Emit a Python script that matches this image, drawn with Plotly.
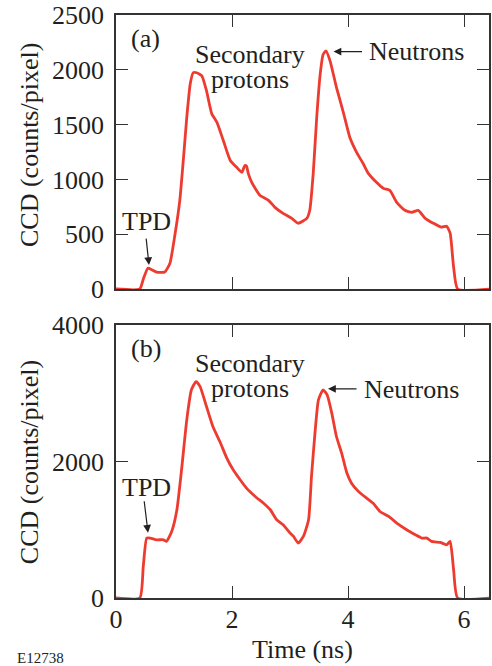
import plotly.graph_objects as go
from plotly.subplots import make_subplots

# Panel (a)
time_a = [0, 0.41, 0.47, 0.55, 0.62, 0.70, 0.84, 0.93, 1.02, 1.10, 1.16, 1.22, 1.28, 1.33, 1.39, 1.48, 1.56, 1.65, 1.74, 1.85,
          1.97, 2.08, 2.17, 2.22, 2.25, 2.28, 2.34, 2.48, 2.63, 2.74, 2.88, 3.03, 3.14, 3.29, 3.34, 3.40, 3.46, 3.52, 3.57, 3.62,
          3.69, 3.80, 3.92, 4.03, 4.15, 4.26, 4.35, 4.49, 4.61, 4.72, 4.84, 4.98, 5.10, 5.21, 5.33, 5.47, 5.61, 5.70, 5.76, 5.82,
          5.89, 6.45]
ccd_a = [0, 0, 90, 190, 175, 155, 155, 236, 509, 809, 1173, 1565, 1872, 1973, 1973, 1945, 1809, 1600, 1520, 1355,
         1173, 1110, 1064, 1127, 1120, 1055, 973, 855, 809, 745, 690, 645, 600, 645, 718, 1055, 1565, 1960, 2140, 2173,
         2082, 1840, 1610, 1385, 1245, 1145, 1055, 973, 918, 900, 790, 718, 700, 718, 645, 600, 564, 573, 509, 200,
         0, 0]

# Panel (b)
time_b = [0, 0.41, 0.47, 0.53, 0.59, 0.70, 0.82, 0.87, 0.96, 1.05, 1.13, 1.22, 1.30, 1.38, 1.45, 1.56, 1.67, 1.79, 1.91, 2.02,
          2.14, 2.25, 2.40, 2.54, 2.66, 2.77, 2.88, 3.00, 3.06, 3.14, 3.23, 3.32, 3.37, 3.43, 3.49, 3.57, 3.64, 3.72, 3.80, 3.89,
          3.98, 4.06, 4.18, 4.32, 4.43, 4.55, 4.70, 4.84, 5.01, 5.16, 5.27, 5.36, 5.44, 5.59, 5.70, 5.76, 5.82, 5.89, 6.45]
ccd_b = [0, 0, 463, 878, 878, 853, 853, 829, 975, 1293, 1878, 2610, 3050, 3171, 3098, 2805, 2512, 2293, 2050, 1878,
         1732, 1610, 1488, 1391, 1293, 1147, 1073, 952, 902, 805, 902, 1147, 1781, 2416, 2903, 3050, 2976, 2708, 2366, 2122,
         1830, 1683, 1561, 1464, 1391, 1268, 1195, 1098, 1000, 927, 878, 878, 829, 814, 780, 829, 414, 0, 0]

x_ticks = [0, 2, 4, 6]
y_ticks_a = [0, 500, 1000, 1500, 2000, 2500]
y_ticks_b = [0, 2000, 4000]

FONT = "Liberation Serif, Times New Roman, serif"
TXT = "#231f20"
RED = "#ee3b30"
FS = 26

fig = make_subplots(rows=2, cols=1)
fig.add_trace(go.Scatter(x=time_a, y=ccd_a, mode="lines", line=dict(color=RED, width=2.8, shape="spline", smoothing=0.5),
                         showlegend=False), row=1, col=1)
fig.add_trace(go.Scatter(x=time_b, y=ccd_b, mode="lines", line=dict(color=RED, width=2.8, shape="spline", smoothing=0.5),
                         showlegend=False), row=2, col=1)

axcommon = dict(showline=True, linecolor="#333333", linewidth=1.5, mirror="ticks", ticks="inside", ticklen=12,
                tickwidth=1.2, tickcolor="#333333", showgrid=False, zeroline=False, automargin=False,
                tickfont=dict(family=FONT, size=FS, color=TXT))
fig.update_layout(
    xaxis=dict(axcommon, range=[0, 6.43], tickvals=x_ticks, showticklabels=False, domain=[0, 1]),
    xaxis2=dict(axcommon, range=[0, 6.43], tickvals=x_ticks, domain=[0, 1], ticklabelstandoff=-3),
    yaxis=dict(axcommon, range=[0, 2500], tickvals=y_ticks_a, domain=[0.530, 1], ticklabelstandoff=5),
    yaxis2=dict(axcommon, range=[0, 4000], tickvals=y_ticks_b, domain=[0, 0.4683], ticklabelstandoff=5),
    width=492, height=666, margin=dict(l=116, r=3, t=15, b=68),
    paper_bgcolor="white", plot_bgcolor="white",
    font=dict(family=FONT, size=FS, color=TXT),
)

def txt(text, x, y, xref, yref, xanchor="center", size=FS):
    fig.add_annotation(text=text, x=x, y=y, xref=xref, yref=yref, xanchor=xanchor, yanchor="middle",
                       showarrow=False, font=dict(family=FONT, size=size, color=TXT))

def arrow(x, y, ax, ay, xref, yref):
    fig.add_annotation(text="", x=x, y=y, ax=ax, ay=ay, xref=xref, yref=yref, showarrow=True,
                       arrowhead=2, arrowsize=1.3, arrowwidth=1.2, arrowcolor=TXT)

# panel (a)
txt("(a)", 0.5, 2282, "x", "y")
txt("Secondary", 2.31, 2141, "x", "y")
txt("protons", 2.31, 1914, "x", "y")
txt("Neutrons", 4.32, 2164, "x", "y", xanchor="left")
txt("TPD", 0.534, 618, "x", "y")
arrow(3.75, 2166, 30, 0, "x", "y")
arrow(0.569, 218, -3, -28, "x", "y")

# panel (b)
txt("(b)", 0.517, 3650, "x2", "y2")
txt("Secondary", 2.31, 3430, "x2", "y2")
txt("protons", 2.31, 3064, "x2", "y2")
txt("Neutrons", 4.24, 3050, "x2", "y2", xanchor="left")
txt("TPD", 0.526, 1615, "x2", "y2")
arrow(3.655, 3064, 30, 0, "x2", "y2")
arrow(0.552, 956, -4, -33, "x2", "y2")

# titles
fig.add_annotation(text="CCD (counts/pixel)", x=-0.2332, y=0.777, xref="paper", yref="paper", textangle=-90,
                   xanchor="center", yanchor="middle", showarrow=False, font=dict(family=FONT, size=FS, color=TXT))
fig.add_annotation(text="CCD (counts/pixel)", x=-0.2332, y=0.233, xref="paper", yref="paper", textangle=-90,
                   xanchor="center", yanchor="middle", showarrow=False, font=dict(family=FONT, size=FS, color=TXT))
fig.add_annotation(text="Time (ns)", x=0.5, y=-0.089, xref="paper", yref="paper",
                   xanchor="center", yanchor="middle", showarrow=False, font=dict(family=FONT, size=FS, color=TXT))
fig.add_annotation(text="E12738", x=-0.271, y=-0.103, xref="paper", yref="paper",
                   xanchor="left", yanchor="middle", showarrow=False, font=dict(family=FONT, size=15, color=TXT))

fig.write_html("out.html", config={"displayModeBar": False},
               post_script="document.body.style.margin='0';document.body.style.overflow='hidden';")
